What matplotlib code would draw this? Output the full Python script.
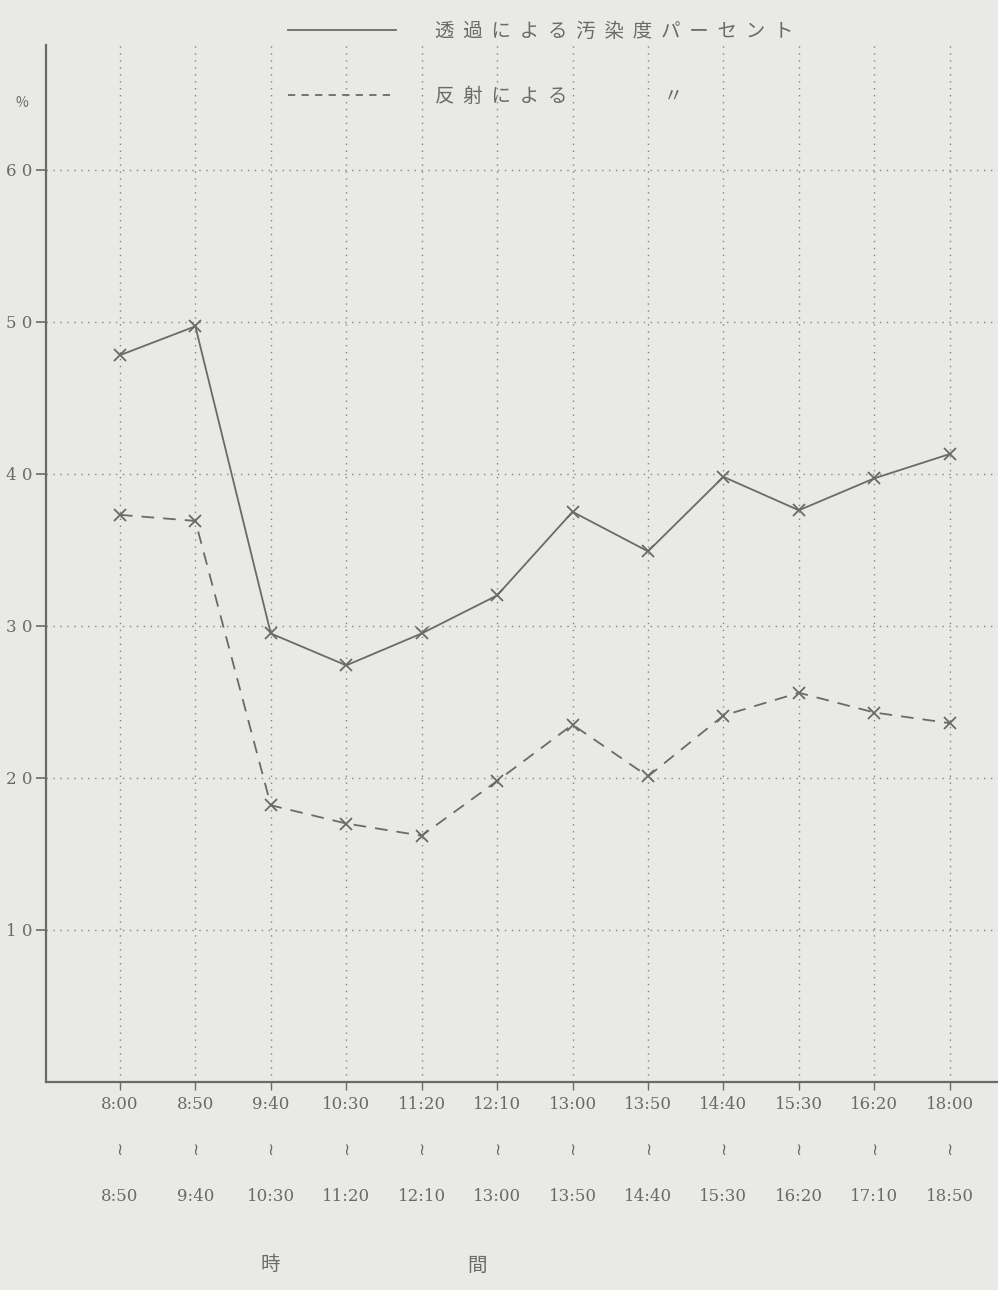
import numpy as np
import matplotlib.pyplot as plt
from matplotlib.lines import Line2D

plt.rcParams['font.family'] = ['Noto Sans CJK JP', 'DejaVu Sans']

# time slots (start / end)
t_start = ["8:00", "8:50", "9:40", "10:30", "11:20", "12:10",
           "13:00", "13:50", "14:40", "15:30", "16:20", "18:00"]
t_end = ["8:50", "9:40", "10:30", "11:20", "12:10", "13:00",
         "13:50", "14:40", "15:30", "16:20", "17:10", "18:50"]

# 透過による汚染度パーセント
transmit = [47.8, 49.7, 29.5, 27.4, 29.5, 32.0, 37.5, 34.9, 39.8, 37.6, 39.7, 41.3]
# 反射による
reflect = [37.3, 36.9, 18.2, 17.0, 16.2, 19.8, 23.5, 20.1, 24.1, 25.6, 24.3, 23.6]

y_ticks = [10, 20, 30, 40, 50, 60]
y_ticklabels = ["1 0", "2 0", "3 0", "4 0", "5 0", "6 0"]

BG = "#e9e9e6"
INK = "#6a6a6a"

fig = plt.figure(figsize=(9.98, 12.9), dpi=100, facecolor=BG)
ax = fig.add_axes([46/998, 208/1290, 1 - 46/998, (1082 - 45)/1290])
ax.set_facecolor(BG)

x = np.arange(len(t_start))
ax.plot(x, transmit, ls='-', c=INK, lw=1.3, marker='x', ms=9, mew=1.3)
ax.plot(x, reflect, ls=(0, (7, 5)), c=INK, lw=1.3, marker='x', ms=9, mew=1.3)

ax.set_xlim(-0.98, 11.64)
ax.set_ylim(0, 68.2)

ax.set_yticks(y_ticks)
ax.set_yticklabels(y_ticklabels)
ax.set_xticks(x)
ax.set_xticklabels([f"{a}\n≀\n{b}" for a, b in zip(t_start, t_end)],
                   linespacing=3.25)

ax.tick_params(axis='y', colors=INK, labelsize=12, length=7, width=1.2, pad=3)
ax.tick_params(axis='x', colors=INK, labelsize=12, length=6, width=1.0, pad=4)
for lab in ax.get_xticklabels():
    lab.set_family(['DejaVu Serif', 'DejaVu Sans'])
for lab in ax.get_yticklabels():
    lab.set_family(['DejaVu Serif', 'DejaVu Sans'])

for s in ['top', 'right']:
    ax.spines[s].set_visible(False)
for s in ['left', 'bottom']:
    ax.spines[s].set_color(INK)
    ax.spines[s].set_linewidth(1.6)

ax.grid(True, ls=(0, (1, 4)), c=INK, lw=1.0, alpha=0.8)
ax.set_axisbelow(True)

fig.text(22/998, 1 - 103/1290, "%", color=INK, fontsize=10, ha='center', va='center')

# legend
handles = [Line2D([], [], c=INK, lw=1.3, ls='-'),
           Line2D([], [], c=INK, lw=1.3, ls=(0, (4, 3.5)))]
labels = ["透  過  に  よ  る  汚  染  度  パ  ー  セ  ン  ト",
          "反  射  に  よ  る                      〃"]
leg = fig.legend(handles, labels, loc='upper left', bbox_to_anchor=(270/998, 1 - 3/1290),
                 frameon=False, fontsize=14, handlelength=5.6, handletextpad=2.0,
                 labelspacing=2.3, labelcolor=INK)

# axis label 時 間
fig.text(270/998, 1 - 1265/1290, "時", color=INK, fontsize=14, ha='center', va='center')
fig.text(477/998, 1 - 1265/1290, "間", color=INK, fontsize=14, ha='center', va='center')

fig.savefig("out.png", dpi=100, facecolor=BG)
